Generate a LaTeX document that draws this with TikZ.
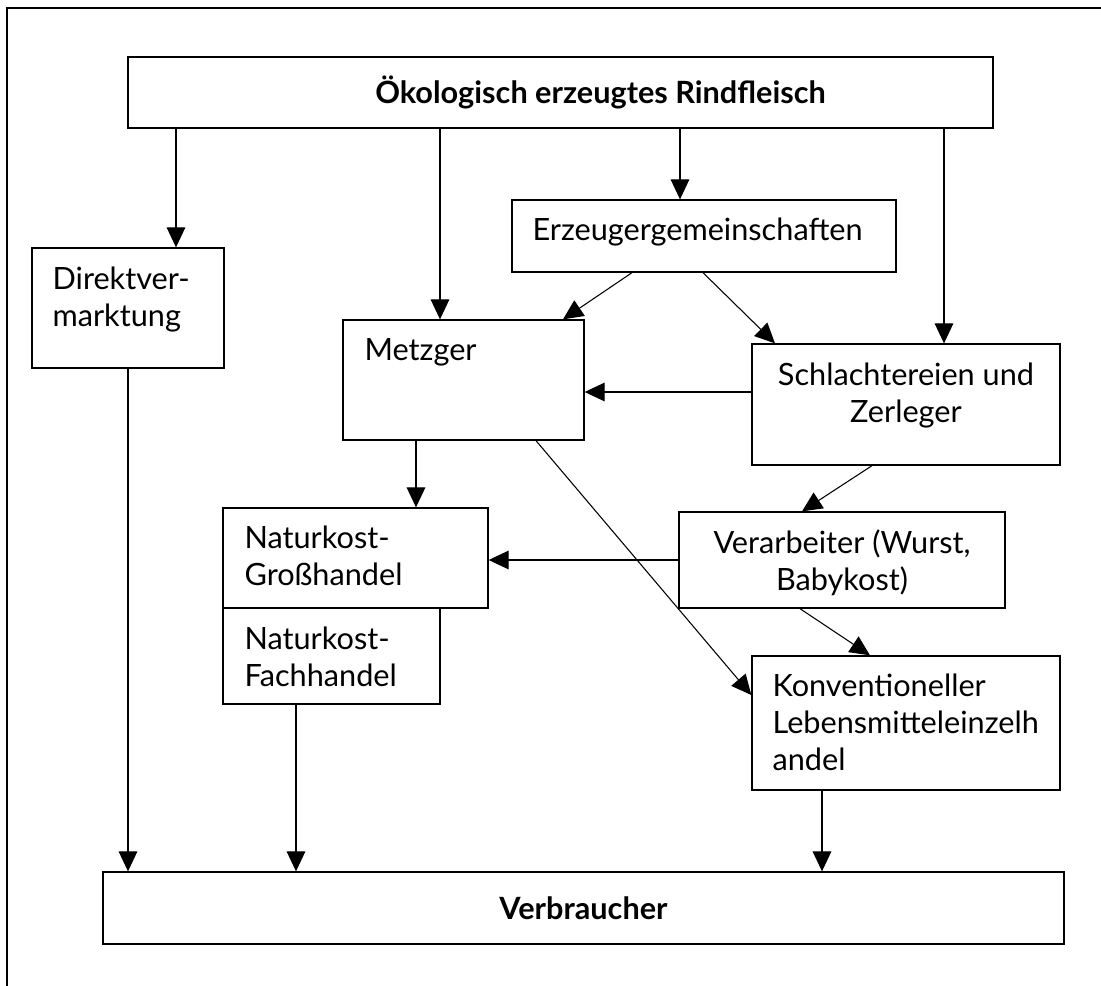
\documentclass[tikz,border=0pt]{standalone}
\usepackage{fontspec}
\setmainfont{Lato}
\usepackage{tikz}
\usetikzlibrary{arrows.meta,fit}

\tikzset{
  kasten/.style={draw, line width=1pt, inner sep=0pt},
  beschr/.style={anchor=north west, inner sep=0pt, align=left, font=\fontsize{23}{27.75}\selectfont},
  beschrmitte/.style={beschr, anchor=north, align=center},
  titel/.style={inner sep=0pt, font=\fontsize{23}{27.75}\selectfont\bfseries},
  pfeil/.style={line width=0.8pt, -{Triangle[length=15pt,width=14pt]}},
}

\begin{document}
\begin{tikzpicture}[x=0.75pt,y=0.75pt,yscale=-1,xscale=1]
\useasboundingbox (0,0) rectangle (1101,986);

%Straight Lines [frame]
\draw[line width=1pt] (7,986) -- (7,8) -- (1101,8);

%Shape: Rectangle
\node[kasten, fit={(128,57) (993,128)}] (rind) {};
\node[kasten, fit={(32,248) (224,368)}] (direkt) {};
\node[kasten, fit={(512,200) (896,272)}] (erzeuger) {};
\node[kasten, fit={(343,320) (584,440)}] (metzger) {};
\node[kasten, fit={(752,344) (1060,465)}] (schlacht) {};
\node[kasten, fit={(679,512) (1005,608)}] (verarb) {};
\node[kasten, fit={(223,508) (488,608)}] (grosshandel) {};
\node[kasten, fit={(223,608) (440,704)}] (fachhandel) {};
\node[kasten, fit={(752,656) (1060,790)}] (konv) {};
\node[kasten, fit={(103,872) (1064,944)}] (verbraucher) {};

% Text Node
\node[titel] (rindtxt) at ([shift={(40,0)}]rind.center) {Ökologisch erzeugtes Rindfleisch};
\node[beschr] (direkttxt) at ([shift={(21,19)}]direkt.north west) {Direktver-\\marktung};
\node[beschr] (erzeugertxt) at ([shift={(21,18)}]erzeuger.north west) {Erzeugergemeinschaften};
\node[beschr] (metzgertxt) at ([shift={(22,19)}]metzger.north west) {Metzger};
\node[beschrmitte] (schlachttxt) at ([shift={(0,19)}]schlacht.north) {Schlachtereien und\\Zerleger};
\node[beschr] (grosshandeltxt) at ([shift={(22,18)}]grosshandel.north west) {Naturkost-\\Großhandel};
\node[beschr] (fachhandeltxt) at ([shift={(22,19)}]fachhandel.north west) {Naturkost-\\Fachhandel};
\node[beschrmitte] (verarbtxt) at ([shift={(0,18)}]verarb.north) {Verarbeiter (Wurst,\\Babykost)};
\node[beschr] (konvtxt) at ([shift={(21,18)}]konv.north west) {Konventioneller\\Lebensmitteleinzelh\\andel};
\node[titel] (verbrauchertxt) at (verbraucher.center) {Verbraucher};

%Straight Lines
\draw[pfeil] (rind.south -| 176,0) -- (direkt.north -| 176,0);
\draw[pfeil] (rind.south -| 440,0) -- (metzger.north -| 440,0);
\draw[pfeil] (rind.south -| 680,0) -- (erzeuger.north -| 680,0);
\draw[pfeil] (rind.south -| 944,0) -- (schlacht.north -| 944,0);
\draw[pfeil] (erzeuger.south -| 632,0) -- (metzger.north -| 563,0);
\draw[pfeil] (erzeuger.south -| 703,0) -- (schlacht.north -| 775,0);
\draw[pfeil] (schlacht.west |- 0,392) -- (metzger.east |- 0,392);
\draw[pfeil] (metzger.south -| 416,0) -- (grosshandel.north -| 416,0);
\draw[pfeil] (metzger.south -| 536,0) -- (konv.west |- 0,695);
\draw[pfeil] (schlacht.south -| 872,0) -- (verarb.north -| 802,0);
\draw[pfeil] (verarb.west |- 0,560) -- (grosshandel.east |- 0,560);
\draw[pfeil] (verarb.south -| 800,0) -- (konv.north -| 870,0);
\draw[pfeil] (direkt.south -| 128,0) -- (verbraucher.north -| 128,0);
\draw[pfeil] (fachhandel.south -| 296,0) -- (verbraucher.north -| 296,0);
\draw[pfeil] (konv.south -| 822,0) -- (verbraucher.north -| 822,0);

\end{tikzpicture}
\end{document}
